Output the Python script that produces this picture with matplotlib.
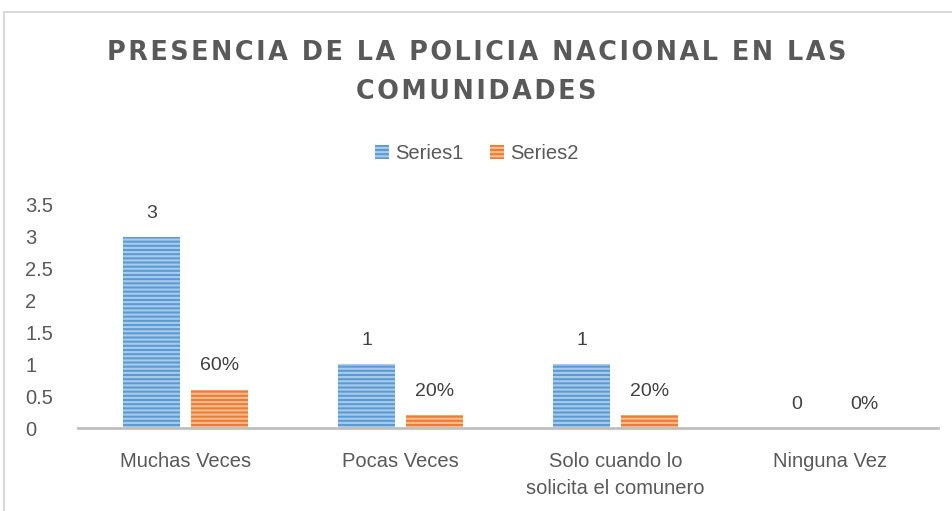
import matplotlib.pyplot as plt
from matplotlib.lines import Line2D
from matplotlib.patches import Patch
import numpy as np

categories = ["Muchas Veces", "Pocas Veces", "Solo cuando lo\nsolicita el comunero", "Ninguna Vez"]
series1 = [3, 1, 1, 0]
series2 = [0.6, 0.2, 0.2, 0]
series1_labels = ["3", "1", "1", "0"]
series2_labels = ["60%", "20%", "20%", "0%"]
yticks = [0, 0.5, 1, 1.5, 2, 2.5, 3, 3.5]
ytick_labels = ["0", "0.5", "1", "1.5", "2", "2.5", "3", "3.5"]

BLUE = "#5B9BD5"
ORANGE = "#ED7D31"
GREY = "#595959"

plt.rcParams['font.family'] = ['Liberation Sans', 'DejaVu Sans']
plt.rcParams['hatch.linewidth'] = 1.5

fig = plt.figure(figsize=(9.53, 5.11), dpi=100)
ax = fig.add_axes([0.082, 0.1624, 0.902, 0.4366])

x = np.arange(len(categories))
w = 0.265
off = 0.157
ax.bar(x - off, series1, w, color=BLUE, edgecolor="#A9CBEA", linewidth=0, hatch="----")
ax.bar(x + off, series2, w, color=ORANGE, edgecolor="#F6BC94", linewidth=0, hatch="----")

for xi, v, lab in zip(x, series1, series1_labels):
    ax.annotate(lab, (xi - off, v), xytext=(0, 11), textcoords="offset points",
                ha="center", va="bottom", fontsize=14, color="#404040")
for xi, v, lab in zip(x, series2, series2_labels):
    ax.annotate(lab, (xi + off, v), xytext=(0, 11), textcoords="offset points",
                ha="center", va="bottom", fontsize=14, color="#404040")

ax.set_xlim(-0.5, len(categories) - 0.5)
ax.set_ylim(0, 3.5)
ax.set_yticks(yticks, ytick_labels)
ax.set_xticks(x, categories)
ax.tick_params(axis="both", length=0, labelsize=14.5, labelcolor=GREY)
ax.tick_params(axis="x", pad=17)
for lab in ax.get_xticklabels():
    lab.set_linespacing(1.55)
for lab in ax.get_yticklabels():
    lab.set_horizontalalignment("left")
ax.tick_params(axis="y", pad=38)
for s in ["top", "right", "left"]:
    ax.spines[s].set_visible(False)
ax.spines["bottom"].set_color("#BFBFBF")
ax.spines["bottom"].set_linewidth(2)

title1 = "PRESENCIA DE LA POLICIA NACIONAL EN LAS"
title2 = "COMUNIDADES"
sp = "\u200a"
fig.text(0.5, 0.897, sp.join(title1), ha="center", va="center", fontsize=18.4,
         fontweight="bold", color=GREY, family=['DejaVu Sans'])
fig.text(0.5, 0.819, sp.join(title2), ha="center", va="center", fontsize=18.4,
         fontweight="bold", color=GREY, family=['DejaVu Sans'])

handles = [Patch(facecolor=BLUE, edgecolor="#A9CBEA", linewidth=0, hatch="----"),
           Patch(facecolor=ORANGE, edgecolor="#F6BC94", linewidth=0, hatch="----")]
fig.legend(handles, ["Series1", "Series2"], loc="center", bbox_to_anchor=(0.5, 0.70),
           ncol=2, frameon=False, fontsize=14.5, labelcolor=GREY,
           handlelength=0.7, handleheight=0.7, handletextpad=0.3, columnspacing=1.3)

# chart frame edges
fig.add_artist(Line2D([0.004, 1.0], [0.977, 0.977], color="#D9D9D9", lw=1.5, transform=fig.transFigure))
fig.add_artist(Line2D([0.0045, 0.0045], [0.0, 0.977], color="#D9D9D9", lw=1.5, transform=fig.transFigure))

fig.savefig("out.png", dpi=100)
